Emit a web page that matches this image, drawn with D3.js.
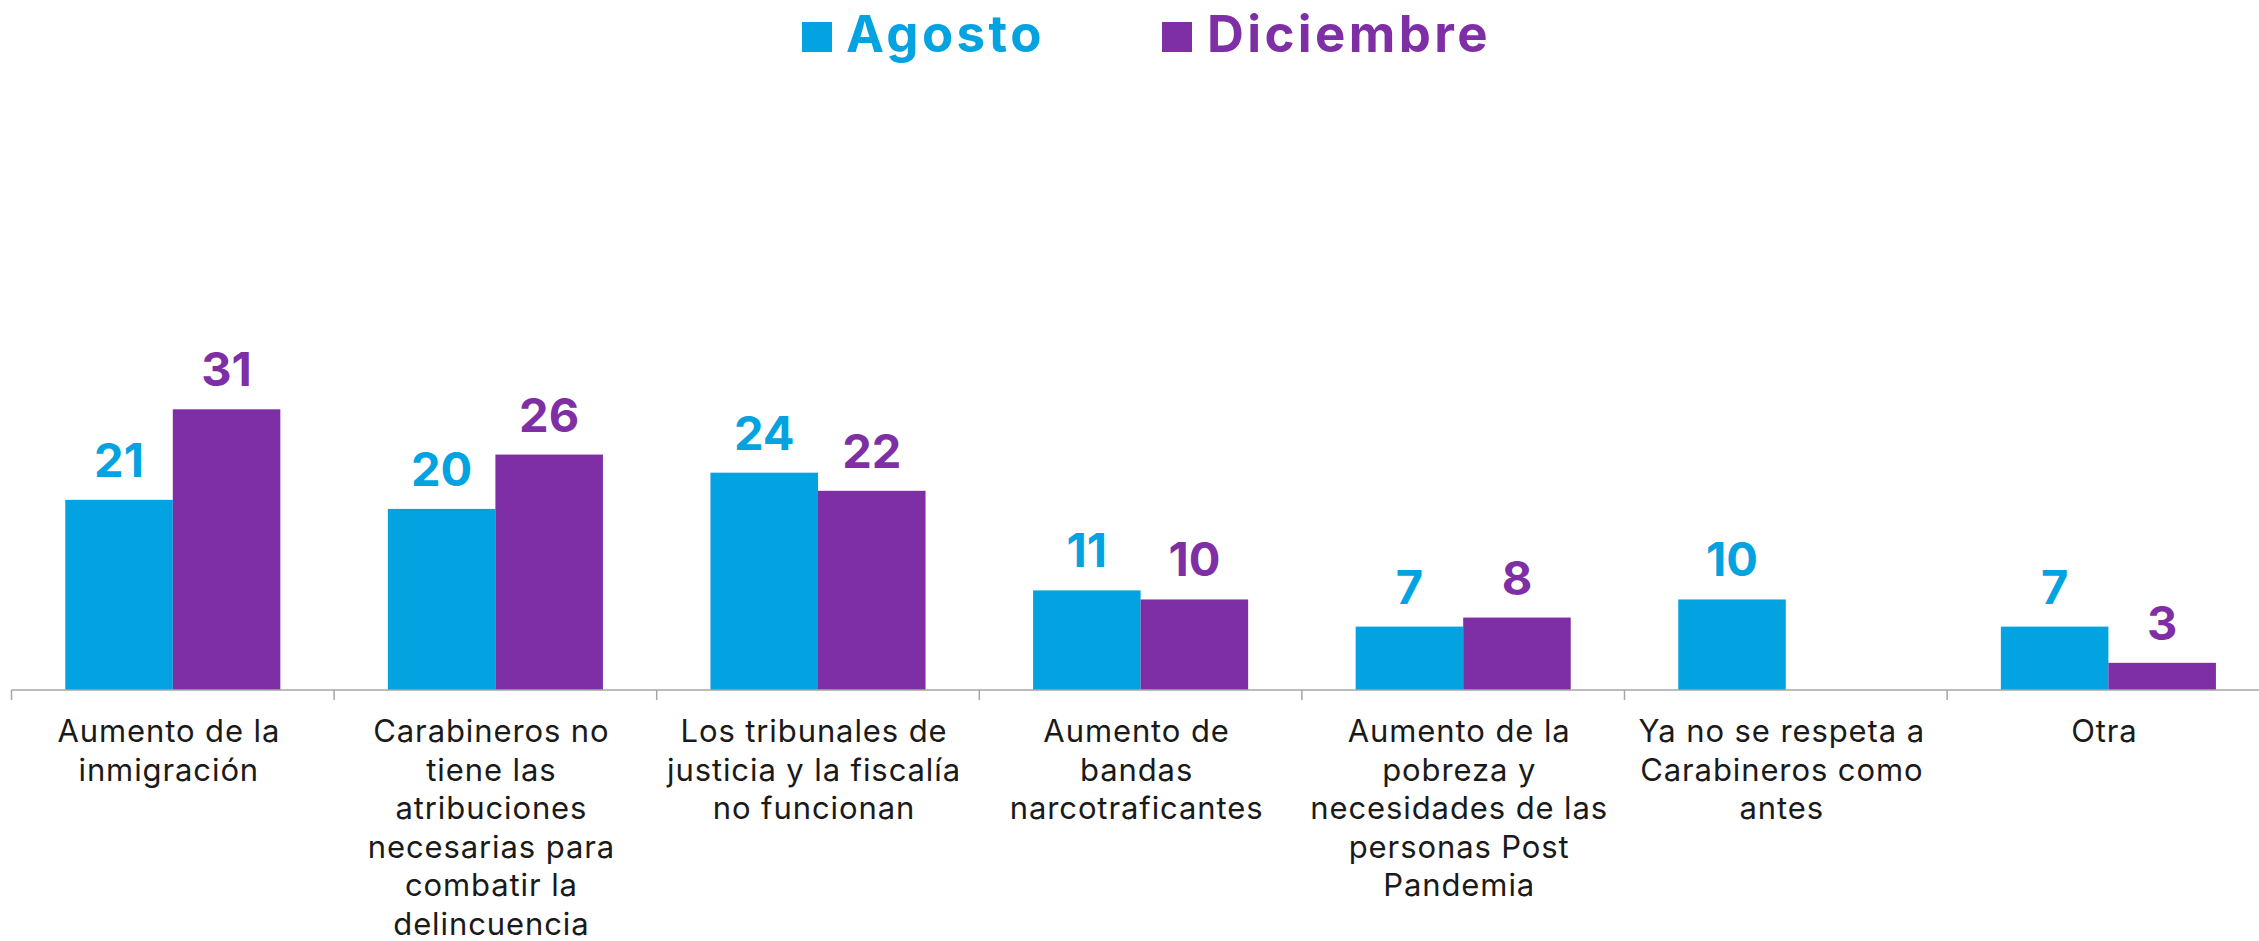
<!DOCTYPE html>
<html><head><meta charset="utf-8">
<script src="https://cdn.jsdelivr.net/npm/d3@7"></script>
<style>html,body{margin:0;padding:0;background:#fff;overflow:hidden}</style>
</head><body>
<svg id="chart" width="2259" height="941"></svg>
<script>
const categories = [
  "Aumento de la\ninmigración",
  "Carabineros no\ntiene las\natribuciones\nnecesarias para\ncombatir la\ndelincuencia",
  "Los tribunales de\njusticia y la fiscalía\nno funcionan",
  "Aumento de\nbandas\nnarcotraficantes",
  "Aumento de la\npobreza y\nnecesidades de las\npersonas Post\nPandemia",
  "Ya no se respeta a\nCarabineros como\nantes",
  "Otra"
];
const seriesNames = ["Agosto", "Diciembre"];
const agosto = [21, 20, 24, 11, 7, 10, 7];
const diciembre = [31, 26, 22, 10, 8, null, 3];
const colors = ["#02A3E0", "#7F2FA5"];

const svg = d3.select("#chart");
const W = 2259, H = 941;
const axisY = 690;
const x0Start = 11.5, band = 322.6;

const x0 = d3.scaleBand().domain(categories).range([x0Start, x0Start + band * categories.length]).padding(0);
const x1 = d3.scaleBand().domain(seriesNames).range([0, x0.bandwidth()]).paddingInner(0).paddingOuter(0.5);
const y = d3.scaleLinear().domain([0, 50]).range([axisY, axisY - 50 * 9.055]);

const data = [agosto, diciembre];
const labelFont = "Inter, 'Noto Sans', sans-serif";

// bars
seriesNames.forEach((s, si) => {
  const vals = data[si];
  const g = svg.append("g");
  categories.forEach((c, ci) => {
    const v = vals[ci];
    if (v == null) return;
    g.append("rect")
      .attr("x", x0(c) + x1(s))
      .attr("y", y(v))
      .attr("width", x1.bandwidth())
      .attr("height", y(0) - y(v))
      .attr("fill", colors[si]);
    g.append("text")
      .attr("x", x0(c) + x1(s) + x1.bandwidth() / 2)
      .attr("y", y(v) - 23)
      .attr("text-anchor", "middle")
      .attr("font-family", labelFont)
      .attr("font-weight", 700)
      .attr("font-size", 47)
      .attr("fill", colors[si])
      .text(v);
  });
});

// axis
const axis = d3.axisBottom(x0).tickSize(0).tickFormat("");
const ax = svg.append("g").attr("transform", `translate(0,${axisY})`).call(axis);
ax.select(".domain").remove();
ax.append("line").attr("x1", x0Start).attr("x2", W).attr("y1", 0).attr("y2", 0)
  .attr("stroke", "#a6a6a6").attr("stroke-width", 1.5);
categories.forEach(c => {
  ax.append("line").attr("x1", x0(c)).attr("x2", x0(c)).attr("y1", 0).attr("y2", 10)
    .attr("stroke", "#a6a6a6").attr("stroke-width", 1.5);
});

// category labels
categories.forEach(c => {
  const lines = c.split("\n");
  const t = svg.append("text")
    .attr("text-anchor", "middle")
    .attr("font-family", labelFont)
    .attr("font-weight", 400)
    .attr("font-size", 31)
    .attr("letter-spacing", 0.9)
    .attr("fill", "#1a1a1a");
  lines.forEach((ln, i) => {
    t.append("tspan")
      .attr("x", x0(c) + x0.bandwidth() / 2 - 4)
      .attr("y", 742 + i * 38.6)
      .text(ln);
  });
});

// legend
const legendItems = [
  {name: seriesNames[0], sx: 802, tx: 846},
  {name: seriesNames[1], sx: 1162, tx: 1207}
];
legendItems.forEach((it, i) => {
  svg.append("rect").attr("x", it.sx).attr("y", 22).attr("width", 30).attr("height", 30).attr("fill", colors[i]);
  svg.append("text").attr("x", it.tx).attr("y", 52)
    .attr("font-family", labelFont).attr("font-weight", 700).attr("font-size", 51)
    .attr("letter-spacing", 3.4)
    .attr("fill", colors[i]).text(it.name);
});
</script>
</body></html>
